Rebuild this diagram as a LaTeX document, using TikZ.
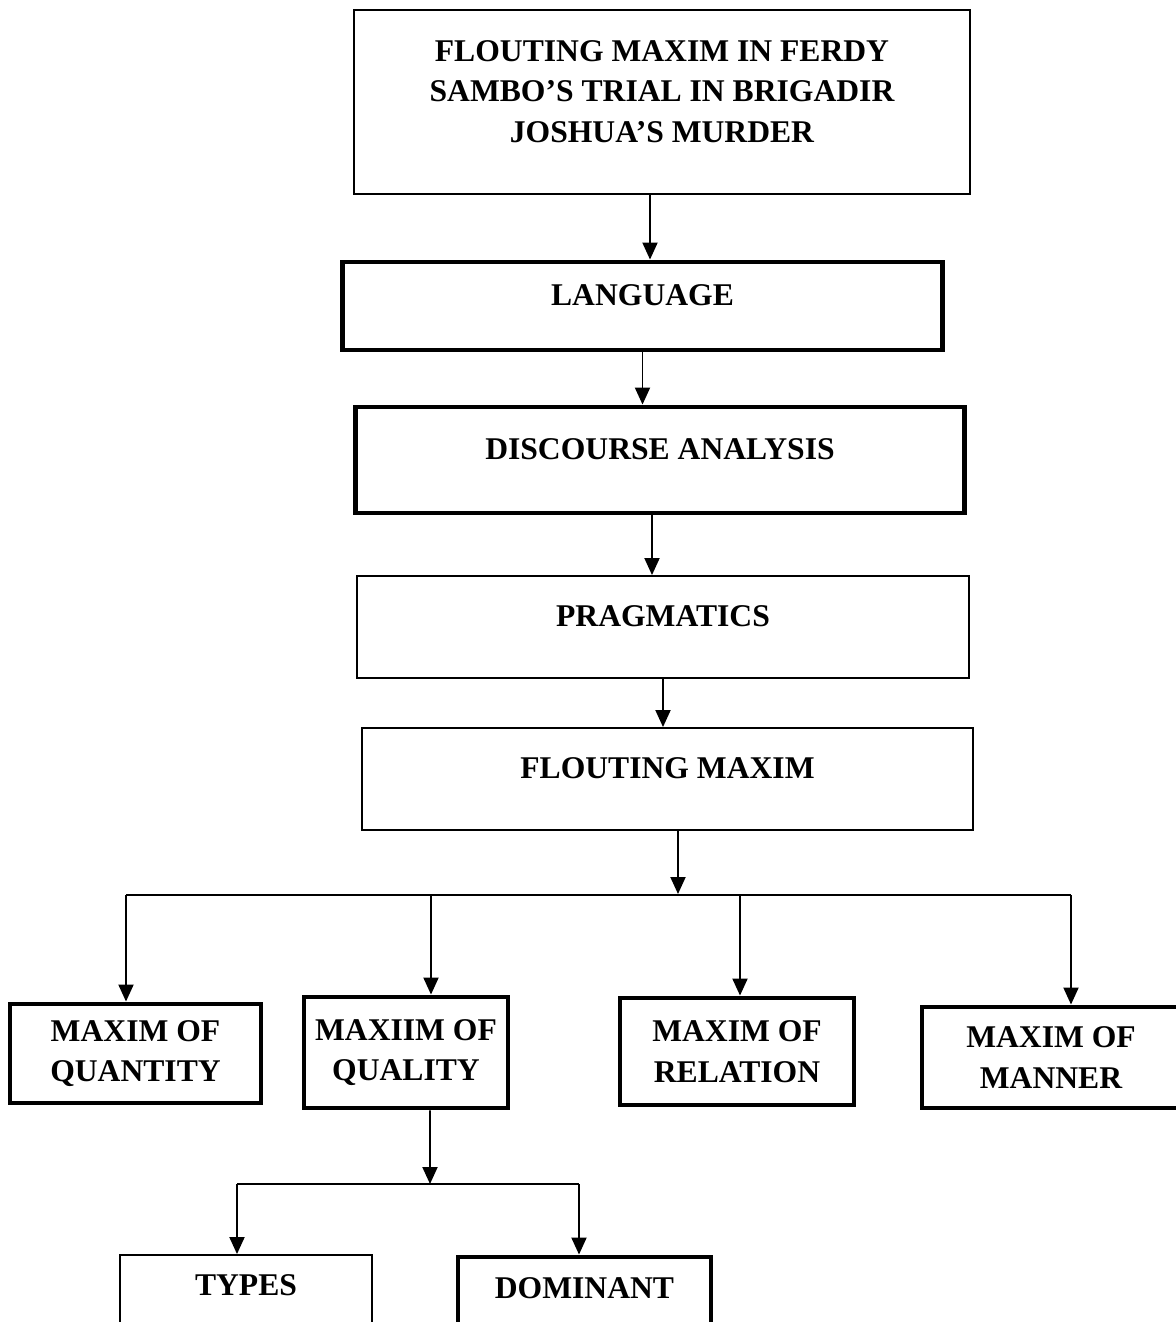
\documentclass[tikz,border=0pt]{standalone}
\usepackage{fontspec}
\setmainfont{Liberation Serif}
\usetikzlibrary{arrows.meta, positioning, calc}

\begin{document}
\begin{tikzpicture}[x=0.02cm, y=-0.02cm,
  box/.style={draw=black, line width=1.1pt, fill=white, align=center, inner sep=0pt,
    font=\fontsize{18}{23}\selectfont\bfseries},
  thickbox/.style={box, line width=2.8pt},
  raised/.style={text depth=0.42cm},
  arr/.style={line width=1.1pt, -{Triangle[length=0.34cm, width=0.3cm]}},
  link/.style={line width=1.1pt}]

%% Page
\useasboundingbox (0,0) rectangle (1176,1322);
\clip (0,0) rectangle (1176,1322);
\fill[white] (0,0) rectangle (1176,1322);

%% ── Main chain ──────────────────────────────────────────────────────────
\node[box, raised, minimum width=12.32cm, minimum height=3.68cm] (title) at (662,102)
  {FLOUTING MAXIM IN FERDY\\SAMBO'S TRIAL IN BRIGADIR\\JOSHUA'S MURDER};
\node[thickbox, raised, minimum width=12.02cm, minimum height=1.76cm] (lang) at (642.5,306) {LANGUAGE};
\node[thickbox, raised, minimum width=12.2cm, minimum height=2.12cm] (disc) at (660,460) {DISCOURSE ANALYSIS};
\node[box, raised, minimum width=12.24cm, minimum height=2.04cm] (prag) at (663,627) {PRAGMATICS};
\node[box, raised, minimum width=12.22cm, minimum height=2.04cm] (flout) at (667.5,779) {FLOUTING MAXIM};

\draw[arr] ([xshift=-0.24cm]title.south) -- ([xshift=-0.24cm]title.south |- lang.north);
\draw[arr] (lang.south) -- (lang.south |- disc.north);
\draw[arr] ([xshift=-0.16cm]disc.south) -- ([xshift=-0.16cm]disc.south |- prag.north);
\draw[arr] (prag.south) -- (prag.south |- flout.north);

%% ── Four maxims ─────────────────────────────────────────────────────────
\coordinate (split) at (678,894);
\coordinate (b1) at (126,895);
\coordinate (b2) at (431,895);
\coordinate (b3) at (740,895);
\coordinate (b4) at (1071,895);

\node[thickbox, minimum width=5.02cm, minimum height=1.98cm] (quan) at (135.5,1053.5) {MAXIM OF\\QUANTITY};
\node[thickbox, minimum width=4.08cm, minimum height=2.22cm] (qual) at (406,1052.5) {MAXIIM OF\\QUALITY};
\node[thickbox, minimum width=4.68cm, minimum height=2.14cm] (rel) at (737,1051.5) {MAXIM OF\\RELATION};
\node[thickbox, minimum width=5.16cm, minimum height=2.02cm] (man) at (1051,1057.5) {MAXIM OF\\MANNER};

\draw[arr] ([xshift=0.21cm]flout.south) -- (split);
\draw[link] (b1) -- (b4);
\draw[arr] (b1) -- (b1 |- quan.north);
\draw[arr] (b2) -- (b2 |- qual.north);
\draw[arr] (b3) -- (b3 |- rel.north);
\draw[arr] (b4) -- (b4 |- man.north);

%% ── Quality split ───────────────────────────────────────────────────────
\coordinate (sub) at (430,1184);
\coordinate (t1) at (237,1184);
\coordinate (t2) at (579,1184);

\node[box, text depth=0.3cm, minimum width=5.04cm, minimum height=1.5cm] (types) at (246,1292.5) {TYPES};
\node[thickbox, text depth=0.2cm, minimum width=5.06cm, minimum height=1.46cm] (dom) at (584.5,1293.5) {DOMINANT};

\draw[arr] ([xshift=0.48cm]qual.south) -- (sub);
\draw[link] (t1) -- (t2);
\draw[arr] (t1) -- (t1 |- types.north);
\draw[arr] (t2) -- (t2 |- dom.north);

\end{tikzpicture}
\end{document}
